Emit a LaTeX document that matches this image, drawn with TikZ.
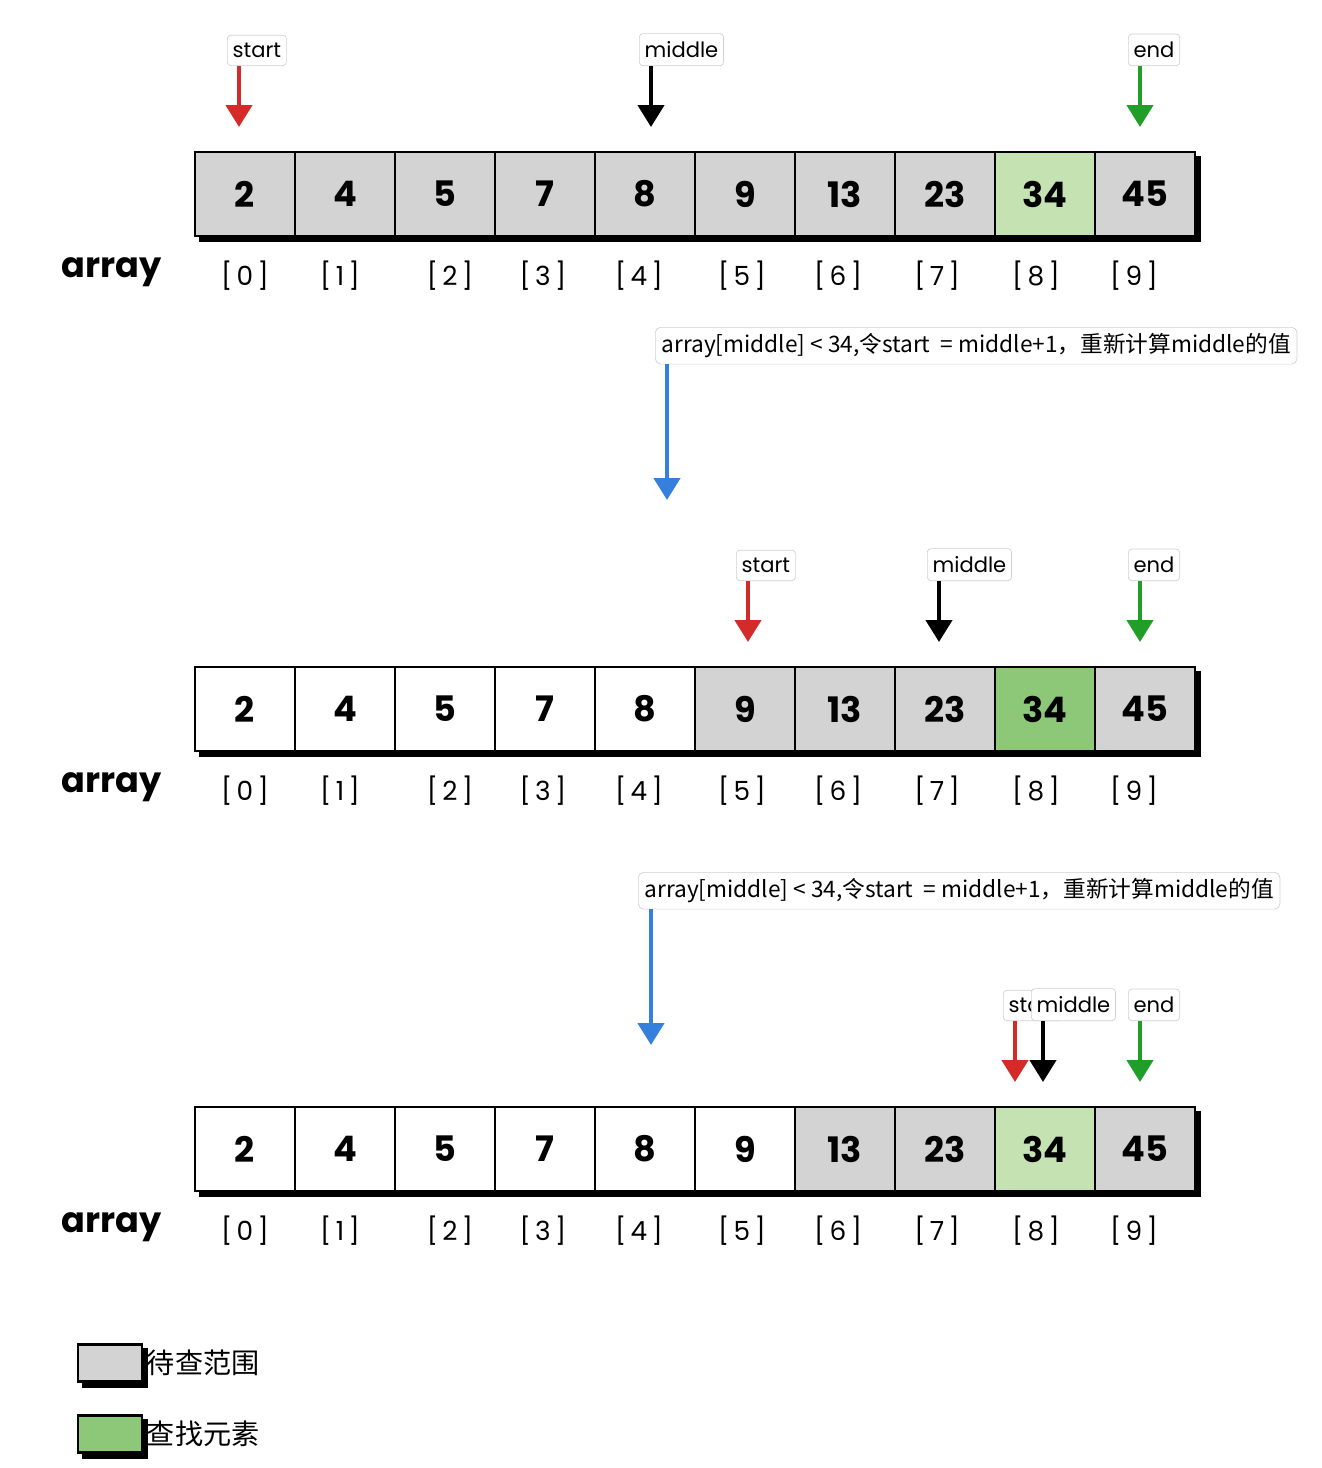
\documentclass[tikz,border=0pt]{standalone}
\usepackage{fontspec}
\usetikzlibrary{arrows.meta,backgrounds}
\newfontfamily\cjk{Noto Sans CJK SC}
\newfontfamily\hand{Poppins}
\definecolor{cw}{RGB}{255,255,255}
\definecolor{cg}{RGB}{211,211,211}
\definecolor{cl}{RGB}{197,227,178}
\definecolor{cd}{RGB}{141,200,120}
\definecolor{ptrred}{RGB}{212,42,42}
\definecolor{ptrgreen}{RGB}{32,158,40}
\definecolor{ptrblue}{RGB}{52,128,220}

\tikzset{
  cell/.style={draw,line width=1.2pt,minimum width=2cm,minimum height=1.68cm,inner sep=0pt,
    font=\hand\bfseries\fontsize{20}{20}\selectfont},
  idx/.style={font=\hand\fontsize{15}{15}\selectfont},
  tag/.style={draw=black!18,fill=white,rounded corners=2pt,inner xsep=3pt,inner ysep=4.5pt,
    font=\hand\fontsize{12}{14}\selectfont},
  note/.style={draw=black!18,fill=white,rounded corners=3pt,inner sep=3.5pt,
    font=\cjk\fontsize{12.9}{14}\selectfont},
  ptr/.style={line width=0.09cm,-{Triangle[width=0.52cm,length=0.44cm]}},
  keybox/.style={draw,line width=1.2pt,minimum width=1.28cm,minimum height=0.74cm,inner sep=0pt},
}

\begin{document}
\begin{tikzpicture}[x=0.02cm,y=-0.02cm]
  \useasboundingbox (0,0) rectangle (1322,1468);
  \def\vals{{2,4,5,7,8,9,13,23,34,45}}
  % ---------------- three array states ----------------
  \foreach \r/\y/\row in {1/194/{g,g,g,g,g,g,g,g,l,g},2/709/{w,w,w,w,w,g,g,g,d,g},3/1149/{w,w,w,w,w,w,g,g,l,g}}{
    \foreach \f [count=\c from 0] in \row {
      \pgfmathtruncatemacro{\v}{\vals[\c]}
      \node[cell,fill=c\f] (a\r-\c) at (245+100*\c,\y) {\v};
    }
    \begin{scope}[on background layer]
      \fill ([shift={(5,5)}]a\r-0.north west) rectangle ([shift={(5,5)}]a\r-9.south east);
    \end{scope}
    \foreach \x [count=\c from 0] in {245,340,450,543,639,742,838,937,1036,1134}{
      \node[idx] (i\r-\c) at (\x,\y+82) {[\,\c\,]};
    }
    \node[font=\hand\bfseries\fontsize{20}{20}\selectfont] (lbl\r) at (112,\y+78) {array};
  }
  % ---------------- pointers ----------------
  \foreach \r/\y/\ptrs in {1/152/{start/ptrred/239,middle/black/651,end/ptrgreen/1140},
                           2/667/{start/ptrred/748,middle/black/939,end/ptrgreen/1140},
                           3/1107/{start/ptrred/1015,middle/black/1043,end/ptrgreen/1140}}{
    \foreach \t/\col/\x in \ptrs {
      \coordinate (\t\r) at (\x,\y-25);
      \node[tag,anchor=south west] (\t\r-tag) at (\x-12,\y-86) {\t};
      \draw[ptr,\col] (\t\r-tag.south -| \t\r) -- (\t\r);
    }
  }
  % ---------------- steps ----------------
  \node[note,anchor=north west] (n1) at (655,327) {array[middle] < 34,令start \ = middle+1，重新计算middle的值};
  \coordinate (t1) at (667,500);
  \draw[ptr,ptrblue] (n1.south -| t1) -- (t1);
  \node[note,anchor=north west] (n2) at (638,872) {array[middle] < 34,令start \ = middle+1，重新计算middle的值};
  \coordinate (t2) at (651,1045);
  \draw[ptr,ptrblue] (n2.south -| t2) -- (t2);
  % ---------------- legend ----------------
  \node[keybox,fill=cg] (k1) at (110,1363) {};
  \node[keybox,fill=cd] (k2) at (110,1434) {};
  \begin{scope}[on background layer]
    \fill ([shift={(5,5)}]k1.north west) rectangle ([shift={(5,5)}]k1.south east);
    \fill ([shift={(5,5)}]k2.north west) rectangle ([shift={(5,5)}]k2.south east);
  \end{scope}
  \node[anchor=west,inner sep=2pt,font=\cjk\fontsize{16}{18}\selectfont] (k1-txt) at (k1.east) {待查范围};
  \node[anchor=west,inner sep=2pt,font=\cjk\fontsize{16}{18}\selectfont] (k2-txt) at (k2.east) {查找元素};
\end{tikzpicture}
\end{document}
